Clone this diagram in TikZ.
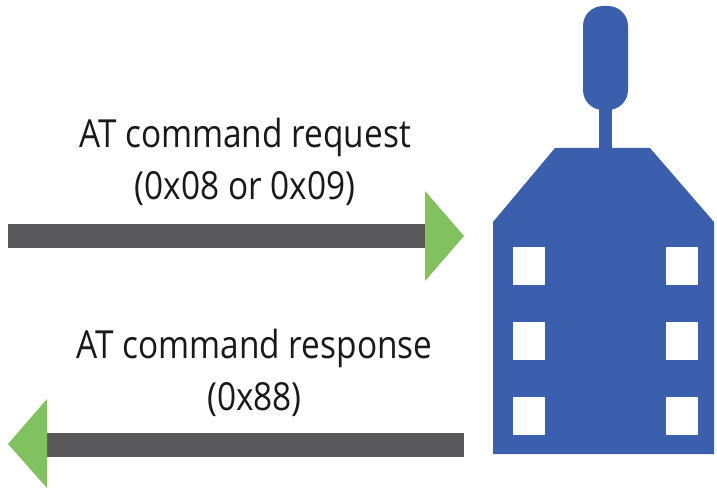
\documentclass[tikz,border=0pt]{standalone}
\usepackage{fontspec}
\setmainfont{Open Sans}
\definecolor{devblue}{HTML}{3C5FAD}
\definecolor{bargray}{HTML}{58585A}
\definecolor{tipgreen}{HTML}{82C160}
\tikzset{x=0.75pt,y=-0.75pt,
 lbl/.style={inner sep=0pt,align=center,xscale=0.864,font=\fontsize{29}{39}\selectfont,text=black!90},
 bar/.style={fill=bargray,draw=none},
 tip/.style={fill=tipgreen,draw=none},
 dev/.style={fill=devblue,draw=none},
 pad/.style={fill=white,draw=none}}
\begin{document}
\begin{tikzpicture}
\useasboundingbox (0,0) rectangle (717,488);
\fill[white] (0,0) rectangle (717,488);
% device
\fill[dev] (493,222) -- (555,148) -- (650,148) -- (714,222) -- (714,454) -- (493,454) -- cycle;
\fill[dev] (599,100) rectangle (612,150);
\fill[dev,rounded corners=15pt] (583,6) rectangle (628,110);
\foreach \px in {513,666}{\foreach \py in {247,322,397}{
 \fill[pad] (\px,\py) rectangle ++(32,38);}}
% arrows
\fill[bar] (8,224) rectangle (425,248);
\fill[tip] (425,191) -- (464,236) -- (425,281) -- cycle;
\fill[bar] (47,433) rectangle (464,457);
\fill[tip] (47,399) -- (8,444) -- (47,488) -- cycle;
\node[lbl] (t1) at (245,162) {AT command request\\(0x08 or 0x09)};
\node[lbl] (t2) at (254.5,373) {AT command response\\(0x88)};
\end{tikzpicture}
\end{document}
